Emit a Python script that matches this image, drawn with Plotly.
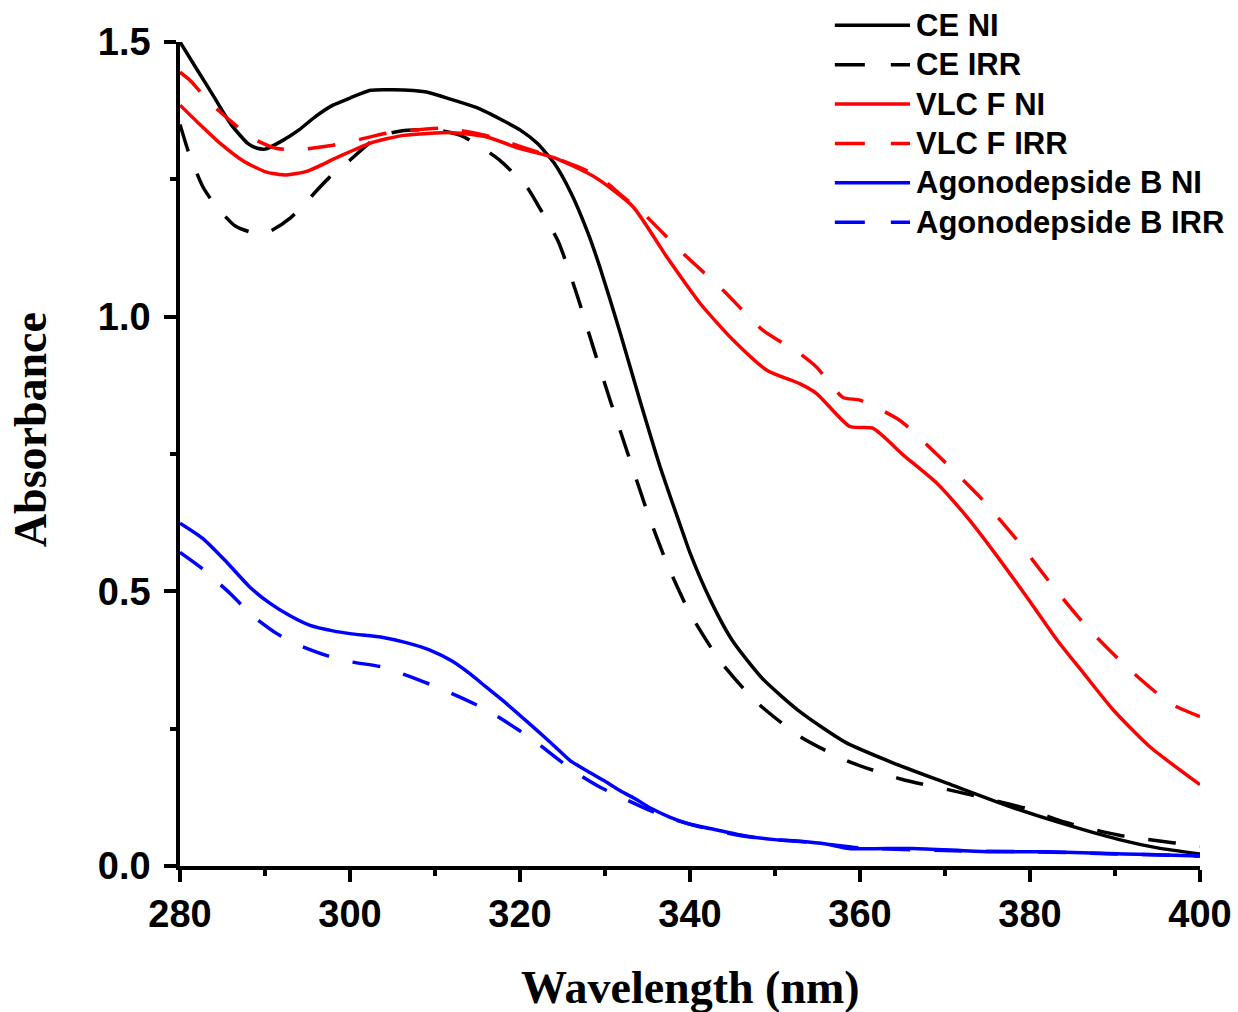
import plotly.graph_objects as go

# ---------------- data ----------------
ce_ni_x = [280, 282, 284, 286, 288, 289, 290, 292, 294, 296, 298, 300, 302.4, 305, 309, 312, 315, 318, 320, 322,
           324, 326, 328, 329.4, 331.8, 334.1, 336.5, 339.2, 340, 342.4, 345, 348.6, 353, 358.3, 364, 370.7, 377.3,
           383.9, 390.5, 395, 400]
ce_ni_y = [1.50, 1.45, 1.40, 1.35, 1.315, 1.307, 1.305, 1.32, 1.34, 1.365, 1.385, 1.398, 1.412, 1.413, 1.409, 1.395,
           1.38, 1.357, 1.34, 1.316, 1.28, 1.225, 1.152, 1.09, 0.97, 0.848, 0.726, 0.605, 0.57, 0.484, 0.41, 0.34,
           0.28, 0.225, 0.187, 0.148, 0.11, 0.077, 0.048, 0.033, 0.022]

ce_irr_x = [280, 281, 282.7, 284.3, 286.5, 288.6, 290.5, 293, 294.9, 297.6, 300, 303.2, 306, 310.2, 313, 315.3, 317.6,
            320.8, 322, 324.5, 326.7, 328.6, 330.6, 332.7, 334.9, 337.3, 340, 343.5, 347.7, 353, 358.7, 364.9, 371.5,
            379.5, 384, 390.5, 397, 400]
ce_irr_y = [1.35, 1.30, 1.236, 1.20, 1.165, 1.153, 1.155, 1.18, 1.21, 1.254, 1.285, 1.327, 1.338, 1.34, 1.33, 1.31,
            1.285, 1.236, 1.206, 1.137, 1.04, 0.945, 0.848, 0.75, 0.648, 0.55, 0.46, 0.374, 0.30, 0.235, 0.19, 0.158,
            0.135, 0.105, 0.08, 0.056, 0.042, 0.036]

vlc_ni_x = [280, 282, 284.7, 287.5, 290.2, 292.5, 295, 298.5, 302.4, 306.3, 312.1, 316.1, 320, 323.9, 327.9, 329.4,
            333.3, 337.3, 341.2, 345.1, 349.1, 352.9, 354.9, 358.8, 361.5, 365.1, 369.1, 372.6, 375.6, 379.6, 383.2,
            386.3, 389.8, 394.1, 400]
vlc_ni_y = [1.385, 1.355, 1.316, 1.283, 1.263, 1.258, 1.265, 1.29, 1.316, 1.33, 1.335, 1.327, 1.306, 1.29, 1.262,
            1.248, 1.2, 1.108, 1.024, 0.957, 0.902, 0.878, 0.86, 0.80, 0.797, 0.748, 0.696, 0.635, 0.575, 0.49,
            0.411, 0.351, 0.284, 0.217, 0.148]

vlc_irr_x = [280, 281.2, 283.5, 285.9, 288.5, 291.4, 294.5, 298, 301, 304.4, 311, 316, 320, 323.9, 326.5, 329.4, 332,
             334.5, 339.2, 343.9, 348.6, 352.9, 354.9, 358, 360, 364.7, 369.4, 374.1, 378.5, 382.4, 386.7, 391.4,
             396.5, 400]
vlc_irr_y = [1.445, 1.43, 1.39, 1.357, 1.325, 1.306, 1.305, 1.312, 1.322, 1.334, 1.343, 1.33, 1.31, 1.29, 1.275,
             1.254, 1.22, 1.188, 1.115, 1.048, 0.975, 0.933, 0.908, 0.853, 0.848, 0.811, 0.744, 0.672, 0.593, 0.515,
             0.435, 0.362, 0.296, 0.272]

ago_ni_x = [280, 282.7, 285.5, 288.2, 290.6, 293, 295.3, 298, 300, 303.9, 306.5, 309.4, 312, 314.1, 316, 318, 320, 322,
            324, 325.9, 328, 329.8, 331.8, 333.8, 335.4, 337.6, 339.8, 343, 346.4, 350, 353, 356, 358.7, 366.2, 375,
            382, 388.3, 394, 400]
ago_ni_y = [0.624, 0.596, 0.553, 0.508, 0.478, 0.455, 0.438, 0.428, 0.423, 0.416, 0.407, 0.393, 0.373, 0.35, 0.326,
            0.301, 0.274, 0.247, 0.219, 0.192, 0.172, 0.156, 0.137, 0.12, 0.105, 0.089, 0.077, 0.066, 0.055, 0.048,
            0.045, 0.040, 0.032, 0.032, 0.026, 0.026, 0.023, 0.021, 0.018]

ago_irr_x = [280, 282.4, 285.9, 288.5, 291.4, 294, 297.3, 300, 303.9, 307, 310.2, 313, 316.1, 319, 321.6, 324, 326.7,
             329.5, 332.6, 335, 338, 341, 346, 350, 355, 360, 370, 380, 390, 400]
ago_irr_y = [0.571, 0.544, 0.496, 0.456, 0.423, 0.402, 0.383, 0.372, 0.362, 0.345, 0.326, 0.307, 0.284, 0.256, 0.229,
             0.2, 0.169, 0.143, 0.12, 0.103, 0.085, 0.072, 0.055, 0.048, 0.042, 0.033, 0.028, 0.026, 0.022, 0.018]

series_names = ["CE NI", "CE IRR", "VLC F NI", "VLC F IRR", "Agonodepside B NI", "Agonodepside B IRR"]
series_colors = ["#000000", "#000000", "#ff0000", "#ff0000", "#0000ff", "#0000ff"]
series_dash = ["solid", "28px,24px", "solid", "28px,24px", "solid", "28px,24px"]

x_tick_vals = [280, 300, 320, 340, 360, 380, 400]
y_tick_vals = [0.0, 0.5, 1.0, 1.5]
y_tick_text = ["0.0", "0.5", "1.0", "1.5"]

# ---------------- figure ----------------
xs = [ce_ni_x, ce_irr_x, vlc_ni_x, vlc_irr_x, ago_ni_x, ago_irr_x]
ys = [ce_ni_y, ce_irr_y, vlc_ni_y, vlc_irr_y, ago_ni_y, ago_irr_y]

fig = go.Figure()
for name, x, y, c, d in zip(series_names, xs, ys, series_colors, series_dash):
    fig.add_trace(go.Scatter(x=x, y=y, mode="lines", name=name,
                             line=dict(color=c, width=3.5, dash=d, shape="spline", smoothing=0.6),
                             showlegend=False))

# manual legend (long line samples as in the reference)
legend_top = 1.0203
legend_step = 0.0478
shapes = []
annotations = []
for i, (name, c, d) in enumerate(zip(series_names, series_colors, series_dash)):
    yy = legend_top - i * legend_step
    shapes.append(dict(type="line", xref="paper", yref="paper", x0=0.642, x1=0.7157, y0=yy, y1=yy,
                       line=dict(color=c, width=3.5, dash=("solid" if d == "solid" else "30px,26px"))))
    annotations.append(dict(text="<b>" + name + "</b>", xref="paper", yref="paper", x=0.7196, y=yy,
                            xanchor="left", yanchor="middle", showarrow=False,
                            font=dict(family="Liberation Sans, Arial", size=31, color="black")))

annotations.append(dict(text="<b>Wavelength (nm)</b>", xref="paper", yref="paper", x=0.5, y=-0.147,
                        xanchor="center", yanchor="middle", showarrow=False,
                        font=dict(family="Liberation Serif, Times New Roman", size=46, color="black")))
annotations.append(dict(text="<b>Absorbance</b>", xref="paper", yref="paper", x=-0.147, y=0.529,
                        xanchor="center", yanchor="middle", showarrow=False, textangle=-90,
                        font=dict(family="Liberation Serif, Times New Roman", size=46, color="black")))

fig.update_layout(
    width=1238, height=1012,
    margin=dict(l=180, r=38, t=42, b=146),
    paper_bgcolor="white", plot_bgcolor="white",
    shapes=shapes, annotations=annotations,
    showlegend=False,
)
fig.update_xaxes(range=[280, 400], tickvals=x_tick_vals, showgrid=False, zeroline=False, automargin=False,
                 showline=True, linecolor="black", linewidth=3.5, ticks="outside", ticklen=12, tickwidth=3.5,
                 tickcolor="black",
                 tickfont=dict(family="Liberation Sans, Arial", size=38, color="black", weight="bold"),
                 minor=dict(dtick=10, ticks="outside", ticklen=6, tickwidth=3.5, tickcolor="black"))
fig.update_yaxes(range=[0, 1.5], tickvals=y_tick_vals, ticktext=y_tick_text, showgrid=False, zeroline=False,
                 automargin=False,
                 showline=True, linecolor="black", linewidth=3.5, ticks="outside", ticklen=12, tickwidth=3.5,
                 tickcolor="black", ticklabelstandoff=6,
                 tickfont=dict(family="Liberation Sans, Arial", size=38, color="black", weight="bold"),
                 minor=dict(dtick=0.25, ticks="outside", ticklen=6, tickwidth=3.5, tickcolor="black"))

fig.write_html("out.html", config={"displayModeBar": False},
               post_script="document.body.style.margin='0px';document.body.style.overflow='hidden';")
